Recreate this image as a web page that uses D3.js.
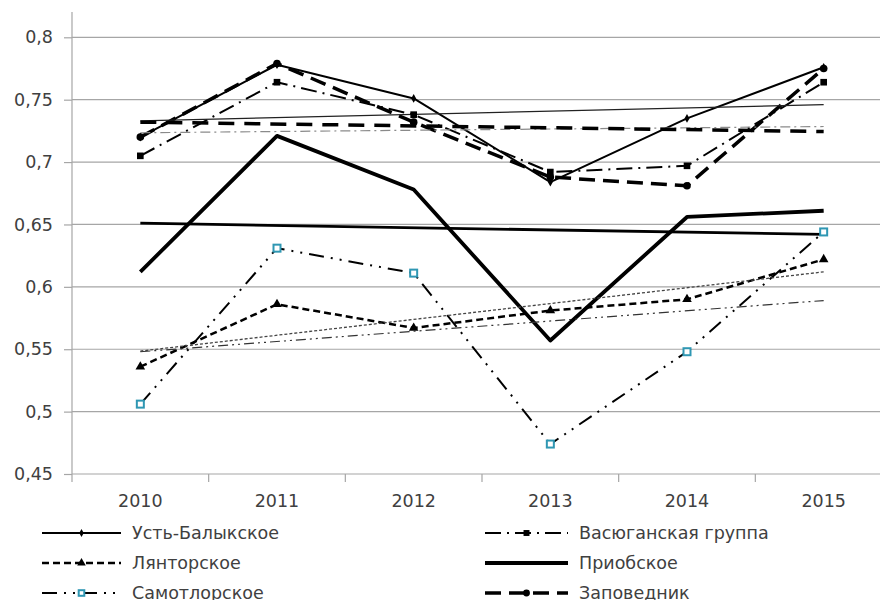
<!DOCTYPE html>
<html>
<head>
<meta charset="utf-8">
<script src="https://cdn.jsdelivr.net/npm/d3@7/dist/d3.min.js"></script>
<style>
  html, body { margin: 0; padding: 0; background: #fff; }
  svg { display: block; font-family: "DejaVu Sans", sans-serif; }
</style>
</head>
<body>
<svg id="chart" width="880" height="600"></svg>
<script>
// Years on the category axis
const years = ["2010", "2011", "2012", "2013", "2014", "2015"];

// Yearly index per field
const ustBalyk = [0.720, 0.778, 0.751, 0.684, 0.735, 0.776];
const vasyugan = [0.705, 0.764, 0.738, 0.692, 0.697, 0.764];
const lyantor  = [0.536, 0.586, 0.567, 0.581, 0.590, 0.622];
const priob    = [0.612, 0.721, 0.678, 0.557, 0.656, 0.661];
const samotlor = [0.506, 0.631, 0.611, 0.474, 0.548, 0.644];
const zapoved  = [0.720, 0.779, 0.732, 0.688, 0.681, 0.775];

// Linear trend lines: value at the first and at the last year
const ustBalykTrend = [0.733, 0.746];
const vasyuganTrend = [0.7235, 0.7285];
const lyantorTrend  = [0.5485, 0.612];
const priobTrend    = [0.651, 0.642];
const samotlorTrend = [0.548, 0.589];
const zapovedTrend  = [0.732, 0.7245];

// Value axis ticks
const yTicks = [0.45, 0.5, 0.55, 0.6, 0.65, 0.7, 0.75, 0.8];

const seriesNames = ["Усть-Балыкское", "Васюганская группа", "Лянторское",
                     "Приобское", "Самотлорское", "Заповедник"];

const svg = d3.select("#chart");
const x = d3.scaleBand().domain(years).range([72, 892]).padding(0);
const y = d3.scaleLinear().domain([0.45, 0.8]).range([474, 37.3]);
const cx = d => x(d) + x.bandwidth() / 2;
const fmt = v => String(+v.toFixed(2)).replace(".", ",");
const textColor = "#404040";
const fontSize = "17.5px";

// Horizontal gridlines
svg.append("g").selectAll("line").data(yTicks.slice(1)).join("line")
  .attr("x1", 72).attr("x2", 892)
  .attr("y1", d => y(d)).attr("y2", d => y(d))
  .attr("stroke", "#a6a6a6").attr("stroke-width", 1.2);

// Value axis
const yAxis = svg.append("g").attr("transform", "translate(72,0)")
  .call(d3.axisLeft(y).tickValues(yTicks).tickFormat(fmt).tickSize(8).tickPadding(11));
yAxis.select(".domain").remove();
yAxis.append("line").attr("x1", 0).attr("x2", 0).attr("y1", 12).attr("y2", 474)
  .attr("stroke", "#a6a6a6").attr("stroke-width", 1.2);
yAxis.selectAll(".tick line").attr("stroke", "#a6a6a6").attr("stroke-width", 1.2);
yAxis.selectAll(".tick text").attr("fill", textColor).style("font-size", fontSize)
  .style("font-family", "'DejaVu Sans', sans-serif");

// Category axis with ticks between categories
const xAxis = svg.append("g").attr("transform", "translate(0,474)");
xAxis.append("line").attr("x1", 72).attr("x2", 892).attr("y1", 0).attr("y2", 0)
  .attr("stroke", "#a6a6a6").attr("stroke-width", 1.2);
xAxis.selectAll("line.tk").data(years.concat(["end"])).join("line").attr("class", "tk")
  .attr("x1", (d, i) => 72 + i * x.bandwidth()).attr("x2", (d, i) => 72 + i * x.bandwidth())
  .attr("y1", 0).attr("y2", 8).attr("stroke", "#a6a6a6").attr("stroke-width", 1.2);
xAxis.selectAll("text").data(years).join("text")
  .attr("x", d => cx(d)).attr("y", 33).attr("text-anchor", "middle")
  .attr("fill", textColor).style("font-size", fontSize).text(d => d);

const line = d3.line().x((d, i) => cx(years[i])).y(d => y(d));
const trendLine = d3.line().x((d, i) => cx(years[i === 0 ? 0 : years.length - 1])).y(d => y(d));

// Series styling
const styles = [
  { data: ustBalyk, trend: ustBalykTrend, w: 2, dash: null, color: "#000",
    marker: "diamond", tw: 1.2, tdash: null, tcolor: "#222" },
  { data: vasyugan, trend: vasyuganTrend, w: 2, dash: "16,6,2,6", color: "#000",
    marker: "square", tw: 1.2, tdash: "10,4,2,4", tcolor: "#8a8a8a" },
  { data: lyantor, trend: lyantorTrend, w: 2.5, dash: "7,4", color: "#000",
    marker: "triangle", tw: 1.3, tdash: "3,2", tcolor: "#444" },
  { data: priob, trend: priobTrend, w: 3.8, dash: null, color: "#000",
    marker: null, tw: 2.8, tdash: null, tcolor: "#000" },
  { data: samotlor, trend: samotlorTrend, w: 2, dash: "15,7,2,7,2,7", color: "#000",
    marker: "open", tw: 1.2, tdash: "10,4,2,4,2,4", tcolor: "#333" },
  { data: zapoved, trend: zapovedTrend, w: 3.5, dash: "16,8", color: "#000",
    marker: "circle", tw: 3.5, tdash: "16,10", tcolor: "#000" }
];

function drawMarker(g, kind, px, py, scale = 1) {
  if (!kind) return;
  if (kind === "open") {
    const s = 7 * scale;
    g.append("rect").attr("x", px - s / 2).attr("y", py - s / 2).attr("width", s).attr("height", s)
      .attr("fill", "#fff").attr("stroke", "#2f97b3").attr("stroke-width", 2);
    return;
  }
  const types = { diamond: d3.symbolDiamond, square: d3.symbolSquare,
                  triangle: d3.symbolTriangle, circle: d3.symbolCircle };
  const sizes = { diamond: 22, square: 44, triangle: 40, circle: 46 };
  g.append("path").attr("transform", `translate(${px},${py})`)
    .attr("d", d3.symbol().type(types[kind]).size(sizes[kind] * scale)())
    .attr("fill", "#000");
}

const plot = svg.append("g");
styles.forEach(s => {
  plot.append("path").attr("d", line(s.data)).attr("fill", "none")
    .attr("stroke", s.color).attr("stroke-width", s.w)
    .attr("stroke-dasharray", s.dash).attr("stroke-linejoin", "round");
});
styles.forEach(s => {
  plot.append("path").attr("d", trendLine(s.trend)).attr("fill", "none")
    .attr("stroke", s.tcolor).attr("stroke-width", s.tw)
    .attr("stroke-dasharray", s.tdash);
});
styles.forEach(s => {
  s.data.forEach((v, i) => drawMarker(plot, s.marker, cx(years[i]), y(v)));
});

// Legend in two columns
const legend = svg.append("g");
styles.forEach((s, i) => {
  const col = i % 2, row = Math.floor(i / 2);
  const x0 = col === 0 ? 42 : 485, x1 = col === 0 ? 121 : 568;
  const ly = 533 + row * 30;
  legend.append("line").attr("x1", x0).attr("x2", x1).attr("y1", ly).attr("y2", ly)
    .attr("stroke", "#000").attr("stroke-width", s.w)
    .attr("stroke-dasharray", s.dash);
  drawMarker(legend, s.marker, (x0 + x1) / 2, ly, 0.8);
  legend.append("text").attr("x", x1 + 11).attr("y", ly + 6)
    .attr("fill", textColor).style("font-size", fontSize).text(seriesNames[i]);
});
</script>
</body>
</html>
